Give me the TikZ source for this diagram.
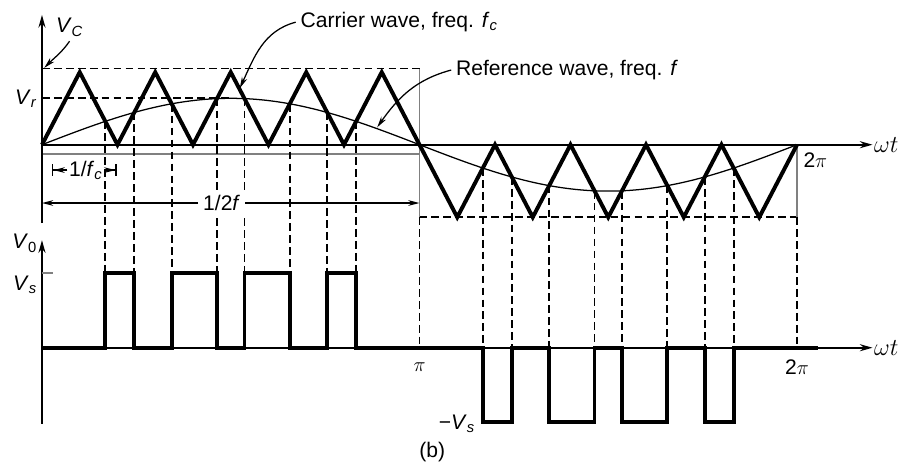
\documentclass[tikz,border=0pt]{standalone}
\usepackage{fontspec}
\setmainfont{Liberation Sans}
\usetikzlibrary{arrows.meta, positioning}

\begin{document}
\begin{tikzpicture}[x=1.8875cm, y=1.8125cm,
    font=\fontsize{15}{18}\selectfont,
    axisline/.style={line width=1.3pt, -{Stealth[length=9pt, width=5pt]}},
    carrier/.style={line width=2.8pt, line join=miter},
    refwave/.style={line width=0.9pt},
    wave/.style={line width=2.8pt},
    guide/.style={line width=1.3pt, dash pattern=on 5.5pt off 3pt},
    rule/.style={gray, line width=0.9pt},
    dimline/.style={line width=1.1pt, -{Stealth[length=8pt, width=4pt]}},
    pointer/.style={line width=0.9pt, -{Stealth[length=8pt, width=4pt]}},
    axislabel/.style={anchor=west, inner sep=1pt, font=\fontsize{18}{20}\selectfont}]
  \useasboundingbox (-0.556,-4.487) rectangle (11.417,1.996);

  % guide lines
  \draw[guide] (0,1.05) -- (5,1.05);
  \draw[guide] (0,0.64) -- (2.5,0.64);
  \draw[guide] (5,-1) -- (10,-1);
  \draw[guide] (5,-1) -- (5,-2.8);
  \draw[guide] (10,-1) -- (10,-2.8);
  \draw[rule] (5,1.05) -- (5,-1);
  \draw[rule] (10,0) -- (10,-1);
  \draw[rule] (0,-0.128) -- (5,-0.128);
  \foreach \a in {0.8395,1.2222,1.718,2.318,2.682,3.282,3.7778,4.1605} {
    \draw[guide] (\a,{0.64*sin(36*\a)}) -- (\a,-1.77);
    \draw[guide] (\a+5,{-0.64*sin(36*\a)}) -- (\a+5,-2.8);
  }

  % upper axes
  \draw[axisline] (0,-1.08) -- (0,1.79);
  \draw[axisline] (0,0) -- (11,0);
  \node[axislabel] (wt1) at (11,0) {$\omega t$};

  % carrier and reference
  \draw[carrier] (0,0) \foreach \k in {0,...,4} { -- (\k+0.5,1) -- (\k+1,0) }
    \foreach \k in {5,...,9} { -- (\k+0.5,-1) -- (\k+1,0) };
  \draw[refwave, domain=0:10, samples=120, smooth] plot (\x,{0.64*sin(36*\x)});

  % labels, upper
  \node[anchor=west] (vc) at (0.12,1.62) {\textit{V}\textsubscript{\textit{C}}};
  \node[left] (vr) at (0,0.63) {\textit{V}\textsubscript{\textit{r}}};
  \node[anchor=west] (tp1) at (10.02,-0.21) {2$\pi$};
  \node[anchor=west] (cw) at (3.36,1.69) {Carrier wave, freq. \textit{f}\textsubscript{\textit{c}}};
  \node[anchor=west] (rw) at (5.42,1.03) {Reference wave, freq. \textit{f}};
  \coordinate (vctop) at (0.03,1.06);
  \coordinate (cpt) at (2.62,0.78);
  \coordinate (rpt) at (4.44,0.24);
  \draw[pointer] (vc.south) to[out=235, in=45] (vctop);
  \draw[pointer] (cw.west) to[out=195, in=65] (cpt);
  \draw[pointer] (rw.west) to[out=195, in=55] (rpt);

  % dimensions
  \coordinate (fcL) at (0.132,-0.35);
  \coordinate (fcR) at (0.993,-0.35);
  \node[inner sep=1pt] (fc) at (0.58,-0.36) {1/\textit{f}\textsubscript{\textit{c}}};
  \draw[line width=1.1pt, -{Stealth[length=8pt, width=4pt]Bar[width=8pt]}] (fc.west |- fcL) -- (fcL);
  \draw[line width=1.1pt, -{Stealth[length=8pt, width=4pt]Bar[width=8pt]}] (fc.east |- fcR) -- (fcR);
  \coordinate (hfL) at (0,-0.804);
  \coordinate (hfR) at (5,-0.804);
  \node[fill=white] (hf) at (2.38,-0.804) {1/2\textit{f}};
  \draw[dimline] (hf.west) -- (hfL);
  \draw[dimline] (hf.east) -- (hfR);

  % output voltage
  \draw[axisline] (0,-3.85) -- (0,-1.317);
  \draw[axisline] (0,-2.8) -- (11,-2.8);
  \draw[rule] (0,-1.77) -- (0.14,-1.77);
  \draw[wave] (0,-2.8)
    \foreach \a/\b in {0.8395/1.2222,1.718/2.318,2.682/3.282,3.7778/4.1605}
      { -- (\a,-2.8) -- (\a,-1.77) -- (\b,-1.77) -- (\b,-2.8) }
    \foreach \a/\b in {0.8395/1.2222,1.718/2.318,2.682/3.282,3.7778/4.1605}
      { -- (\a+5,-2.8) -- (\a+5,-3.83) -- (\b+5,-3.83) -- (\b+5,-2.8) }
    -- (10.28,-2.8);
  \node[axislabel] (wt2) at (11,-2.8) {$\omega t$};

  % labels, lower
  \node[left] (v0) at (0,-1.36) {\textit{V}\textsubscript{0}};
  \node[left] (vs) at (0,-1.93) {\textit{V}\textsubscript{\textit{s}}};
  \node[left] (mvs) at (5.8,-3.85) {−\textit{V}\textsubscript{\textit{s}}};
  \node (pi) at (5,-3.07) {$\pi$};
  \node (tp2) at (10,-3.07) {2$\pi$};
  \node (cap) at (5.17,-4.24) {(b)};
\end{tikzpicture}
\end{document}
